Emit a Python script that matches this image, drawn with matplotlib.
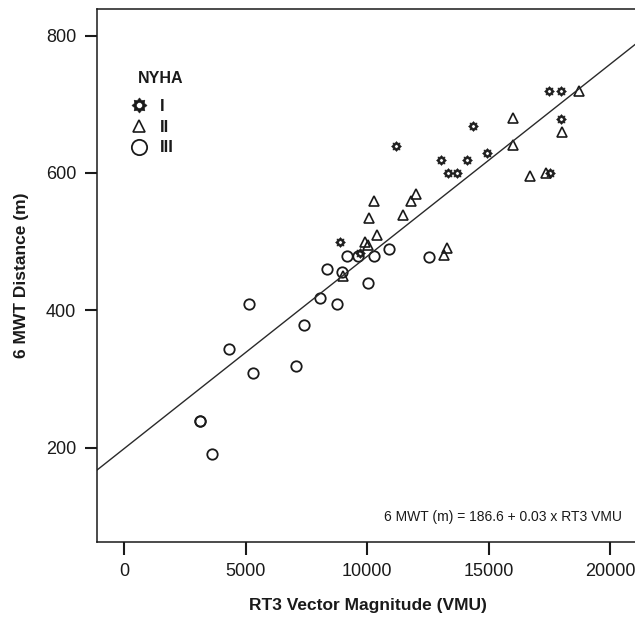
import matplotlib
matplotlib.use("Agg")
import matplotlib.pyplot as plt
import numpy as np
from matplotlib.lines import Line2D
from matplotlib.path import Path

plt.rcParams["font.family"] = ["Liberation Sans", "DejaVu Sans"]

# NYHA class I (sunburst markers)
class1_vmu = [8890, 9710, 11205, 13045, 13315, 13690, 14100, 14375, 14940,
              17510, 17470, 17985, 17995]
class1_mwt = [499, 483, 639, 619, 600, 600, 619, 669, 629, 600, 720, 720, 679]

# NYHA class II (triangles)
class2_vmu = [9000, 9920, 10055, 10080, 10290, 10400, 11470, 11825, 12030,
              13170, 13290, 16020, 16020, 16695, 17345, 18010, 18735]
class2_mwt = [450, 500, 495, 535, 559, 510, 539, 559, 570, 480, 490, 680,
              641, 595, 600, 660, 720]

# NYHA class III (circles)
class3_vmu = [3130, 3130, 3610, 4330, 5140, 5290, 7060, 7410, 8045, 8745,
              8340, 8970, 9190, 9640, 10040, 10300, 10885, 12565]
class3_mwt = [239, 239, 191, 344, 409, 309, 319, 379, 418, 409, 460, 455,
              479, 479, 439, 479, 489, 478]

# regression line as drawn in the figure
line_intercept = 198.3
line_slope = 0.028
equation_text = "6 MWT (m) = 186.6 + 0.03 x RT3 VMU"

x_ticks = [0, 5000, 10000, 15000, 20000]
y_ticks = [200, 400, 600, 800]


def sunburst_marker(n_points=8, r_out=1.0, r_in=0.72, r_hole=0.38):
    ang = np.linspace(0, 2 * np.pi, 2 * n_points, endpoint=False) + np.pi / 2
    rad = np.where(np.arange(2 * n_points) % 2 == 0, r_out, r_in)
    outer = np.column_stack([rad * np.cos(ang), rad * np.sin(ang)])
    t = np.linspace(0, 2 * np.pi, 24, endpoint=False)
    hole = np.column_stack([r_hole * np.cos(-t), r_hole * np.sin(-t)])
    verts = np.vstack([outer, outer[:1], hole, hole[:1]])
    codes = ([Path.MOVETO] + [Path.LINETO] * (len(outer) - 1) + [Path.CLOSEPOLY]
             + [Path.MOVETO] + [Path.LINETO] * (len(hole) - 1) + [Path.CLOSEPOLY])
    return Path(verts, codes)


STAR = sunburst_marker()
INK = "#1a1a1a"

fig = plt.figure(figsize=(6.35, 6.26), dpi=100)
ax = fig.add_axes([0.1528, 0.1342, 0.8535, 0.8522])

ax.plot(class3_vmu, class3_mwt, linestyle="none", marker="o", markersize=7.5,
        markerfacecolor="none", markeredgecolor=INK, markeredgewidth=1.3)
ax.plot(class2_vmu, class2_mwt, linestyle="none", marker="^", markersize=6.5,
        markerfacecolor="none", markeredgecolor=INK, markeredgewidth=1.2)
ax.plot(class1_vmu, class1_mwt, linestyle="none", marker=STAR, markersize=7,
        markerfacecolor=INK, markeredgecolor=INK, markeredgewidth=0.5)

ax.axline((0, line_intercept), slope=line_slope, color="#2a2a2a", linewidth=1.0)

ax.set_xlim(-1110, 21190)
ax.set_ylim(62.4, 839.5)
ax.set_xticks(x_ticks)
ax.set_yticks(y_ticks)
ax.tick_params(direction="out", length=9, width=1.5, labelsize=13, pad=6,
               colors=INK)
for spine in ax.spines.values():
    spine.set_linewidth(1.1)
    spine.set_color(INK)

ax.set_xlabel("RT3 Vector Magnitude (VMU)", fontsize=12.5, fontweight="bold",
              labelpad=13, color=INK)
ax.set_ylabel("6 MWT Distance (m)", fontsize=12.5, fontweight="bold",
              labelpad=12, color=INK)

ax.text(20500, 99, equation_text, ha="right", va="center", fontsize=10,
        color=INK)

# legend block: title as text, entries below
ax.text(0.0756, 0.8697, "NYHA", transform=ax.transAxes, ha="left",
        va="center", fontsize=11.5, fontweight="bold", color=INK)
handles = [
    Line2D([0], [0], linestyle="none", marker=STAR, markersize=11,
           markerfacecolor=INK, markeredgecolor=INK, markeredgewidth=0.3),
    Line2D([0], [0], linestyle="none", marker="^", markersize=9,
           markerfacecolor="none", markeredgecolor=INK, markeredgewidth=1.2),
    Line2D([0], [0], linestyle="none", marker="o", markersize=11,
           markerfacecolor="none", markeredgecolor=INK, markeredgewidth=1.3),
]
leg = ax.legend(handles, ["I", "II", "III"], loc="upper left",
                bbox_to_anchor=(0.049, 0.8435), frameon=False, fontsize=12,
                handlelength=1.0, handletextpad=0.8,
                labelspacing=0.35, borderaxespad=0)
for t in leg.get_texts():
    t.set_fontweight("bold")
    t.set_color(INK)

fig.savefig("out.png", dpi=100)
